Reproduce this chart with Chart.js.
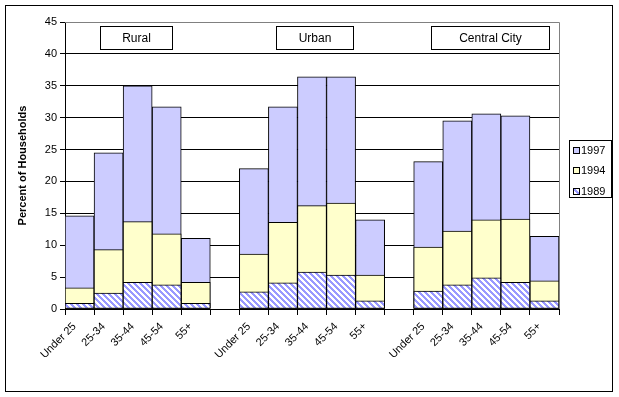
<!DOCTYPE html>
<html>
<head>
<meta charset="utf-8">
<script src="https://cdn.jsdelivr.net/npm/chart.js@4.4.1/dist/chart.umd.min.js"></script>
<style>
  html, body { margin: 0; padding: 0; background: #fff; }
  #wrap { width: 619px; height: 397px; }
</style>
</head>
<body>
<div id="wrap"><canvas id="grafico" width="619" height="397"></canvas></div>
<script>
// dados (null = espaço entre grupos)
const categorias = ['Under 25', '25-34', '35-44', '45-54', '55+', '',
                    'Under 25', '25-34', '35-44', '45-54', '55+', '',
                    'Under 25', '25-34', '35-44', '45-54', '55+'];
const grupos = ['Rural', 'Urban', 'Central City'];
const anos = ['1997', '1994', '1989'];
const dados1997 = [14.6, 24.5, 35.0, 31.7, 11.1, null, 22.0, 31.7, 36.4, 36.4, 14.0, null, 23.1, 29.5, 30.6, 30.3, 11.4];
const dados1994 = [3.3, 9.3, 13.7, 11.8, 4.2, null, 8.6, 13.6, 16.2, 16.6, 5.3, null, 9.7, 12.2, 14.0, 14.1, 4.4];
const dados1989 = [0.9, 2.5, 4.2, 3.8, 0.9, null, 2.7, 4.1, 5.8, 5.3, 1.3, null, 2.8, 3.8, 4.9, 4.2, 1.3];
const yTicks = [0, 5, 10, 15, 20, 25, 30, 35, 40, 45];

const fonte = '"Liberation Sans", Arial, sans-serif';

// hachura azul do 1989
function criarHachura() {
    const n = 6;
    const c = document.createElement('canvas');
    c.width = n; c.height = n;
    const g = c.getContext('2d');
    const img = g.createImageData(n, n);
    for (let y = 0; y < n; y++) {
        for (let x = 0; x < n; x++) {
            const i = (y * n + x) * 4;
            const azul = ((x - y + 2 * n) % n) < 3;
            img.data[i] = azul ? 0x99 : 0xff;
            img.data[i + 1] = azul ? 0x99 : 0xff;
            img.data[i + 2] = 0xff;
            img.data[i + 3] = 255;
        }
    }
    g.putImageData(img, 0, 0);
    return g.createPattern(c, 'repeat');
}
const hachura = criarHachura();

// fundo, moldura, caixas dos grupos e legenda
const extras = {
    id: 'extras',
    beforeDraw(chart) {
        const c = chart.ctx;
        c.save();
        c.fillStyle = '#fff';
        c.fillRect(0, 0, chart.width, chart.height);
        c.restore();
    },
    afterDraw(chart) {
        const c = chart.ctx;
        const a = chart.chartArea;
        c.save();
        // borda cinza da área
        c.strokeStyle = '#808080';
        c.lineWidth = 1;
        c.beginPath();
        c.moveTo(Math.round(a.left), Math.round(a.top) + 0.5);
        c.lineTo(Math.round(a.right) + 0.5, Math.round(a.top) + 0.5);
        c.lineTo(Math.round(a.right) + 0.5, Math.round(a.bottom));
        c.stroke();

        // moldura externa
        c.strokeStyle = '#000';
        c.strokeRect(5.5, 5.5, 607, 386);

        // caixas dos grupos
        const caixas = [[100.5, 72], [276.5, 77], [431.5, 118]];
        c.font = '12px ' + fonte;
        c.textAlign = 'center';
        c.textBaseline = 'middle';
        grupos.forEach((g, i) => {
            const [x, w] = caixas[i];
            c.fillStyle = '#fff';
            c.fillRect(x, 26.5, w, 23);
            c.strokeStyle = '#000';
            c.strokeRect(x, 26.5, w, 23);
            c.fillStyle = '#000';
            c.fillText(g, x + w / 2, 38.5);
        });

        // legenda
        c.fillStyle = '#fff';
        c.fillRect(569.5, 140.5, 42, 57);
        c.strokeStyle = '#000';
        c.strokeRect(569.5, 140.5, 42, 57);
        c.font = '11px ' + fonte;
        c.textAlign = 'left';
        const cores = { '1997': '#ccccff', '1994': '#ffffcc', '1989': hachura };
        anos.forEach((ano, i) => {
            const y = Math.round(146.5 + i * 20.5);
            c.fillStyle = cores[ano];
            c.fillRect(573, y, 7, 7);
            c.strokeStyle = '#000';
            c.strokeRect(573.5, y + 0.5, 6, 6);
            c.fillStyle = '#000';
            c.fillText(ano, 581, y + 4);
        });
        c.restore();
    }
};

const ctx = document.getElementById('grafico');

new Chart(ctx, {
    type: 'bar',
    data: {
        labels: categorias,
        datasets: [
            {
                label: '1989',
                data: dados1989,
                backgroundColor: hachura,
                borderColor: '#000',
                borderWidth: 1,
                borderSkipped: false,
                grouped: false,
                barPercentage: 1,
                categoryPercentage: 1
            },
            {
                label: '1994',
                data: dados1994,
                backgroundColor: '#ffffcc',
                borderColor: '#000',
                borderWidth: 1,
                borderSkipped: false,
                grouped: false,
                barPercentage: 1,
                categoryPercentage: 1
            },
            {
                label: '1997',
                data: dados1997,
                backgroundColor: '#ccccff',
                borderColor: '#000',
                borderWidth: 1,
                borderSkipped: false,
                grouped: false,
                barPercentage: 1,
                categoryPercentage: 1
            }
        ]
    },
    options: {
        responsive: false,
        animation: false,
        devicePixelRatio: 1,
        layout: { padding: { left: 12, right: 60, top: 22, bottom: 0 } },
        scales: {
            x: {
                grid: { display: true, drawOnChartArea: false, offset: true, color: '#000', tickLength: 6 },
                border: { color: '#000' },
                ticks: {
                    color: '#000',
                    font: { family: fonte, size: 11 },
                    minRotation: 45,
                    maxRotation: 45,
                    autoSkip: false,
                    padding: 5,
                    labelOffset: -5
                },
                afterFit(s) { s.height = 88; }
            },
            y: {
                min: 0,
                max: 45,
                afterBuildTicks(s) { s.ticks = yTicks.map(v => ({ value: v })); },
                grid: {
                    color: c => (c.tick && c.tick.value === 45) ? '#808080' : '#000',
                    tickColor: '#000',
                    tickLength: 5
                },
                border: { color: '#000' },
                ticks: { color: '#000', font: { family: fonte, size: 11 }, padding: 3 },
                title: {
                    display: true,
                    text: 'Percent of Households',
                    color: '#000',
                    font: { family: fonte, size: 11, weight: 'bold' }
                },
                afterFit(s) { s.width = 53; }
            }
        },
        plugins: {
            legend: { display: false },
            tooltip: { enabled: false }
        }
    },
    plugins: [extras]
});
</script>
</body>
</html>
